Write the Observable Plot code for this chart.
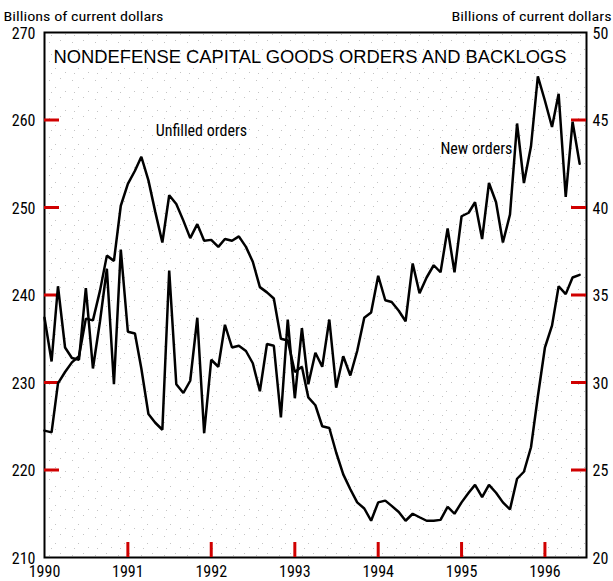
<!DOCTYPE html>
<html><head><meta charset="utf-8">
<script src="https://cdn.jsdelivr.net/npm/d3@7"></script>
<script src="https://cdn.jsdelivr.net/npm/@observablehq/plot@0.6"></script>
<style>body{margin:0;background:#fff}</style>
</head><body><div id="chart"></div>
<script>
// ---- data (monthly, Jan 1990 – Jun 1996), billions of current dollars ----
const startYear = 1990;
const unfilledOrders = [
  224.5, 224.3, 229.9, 231.2, 232.3, 233.0, 237.3, 237.1, 240.5, 244.5, 243.9, 250.2,
  252.7, 254.2, 255.8, 253.1, 249.5, 246.0, 251.4, 250.4, 248.5, 246.5, 248.1, 246.2,
  246.3, 245.5, 246.4, 246.2, 246.7, 245.5, 243.8, 240.9, 240.3, 239.6, 235.0, 234.8,
  231.2, 231.8, 228.3, 227.4, 225.0, 224.8, 222.0, 219.5, 217.8, 216.3, 215.6, 214.2,
  216.3, 216.5, 215.9, 215.2, 214.2, 215.0, 214.6, 214.2, 214.2, 214.3, 215.8, 215.0,
  216.3, 217.4, 218.3, 216.9, 218.3, 217.4, 216.3, 215.5, 219.0, 219.8, 222.6, 228.4,
  234.0, 236.5, 241.0, 240.1, 242.0, 242.3
];
const newOrders = [
  33.7, 31.2, 35.5, 32.0, 31.4, 31.3, 35.4, 30.8, 33.5, 36.5, 29.9, 37.6,
  32.9, 32.8, 30.8, 28.2, 27.7, 27.3, 36.4, 29.9, 29.4, 30.1, 33.7, 27.1,
  31.3, 30.9, 33.3, 32.0, 32.1, 31.8, 31.1, 29.5, 32.2, 32.1, 28.0, 33.6,
  29.1, 33.1, 29.9, 31.7, 30.9, 33.6, 29.7, 31.5, 30.4, 31.8, 33.7, 34.0,
  36.1, 34.7, 34.6, 34.1, 33.5, 36.8, 35.1, 36.0, 36.7, 36.3, 38.8, 36.3,
  39.5, 39.7, 40.3, 38.2, 41.4, 40.3, 38.0, 39.6, 44.8, 41.4, 43.5, 47.5,
  46.1, 44.6, 46.5, 40.6, 44.9, 42.5
];
const yearTicks = [1990, 1991, 1992, 1993, 1994, 1995, 1996];
const leftTicks = [210, 220, 230, 240, 250, 260, 270];
const rightTicks = [20, 25, 30, 35, 40, 45, 50];
const titleText = "NONDEFENSE CAPITAL GOODS ORDERS AND BACKLOGS";
const unitLabel = "Billions of current dollars";
const unfilledLabel = {text: "Unfilled orders", year: 1991, month: 4.0, value: 258.8};
const newLabel = {text: "New orders", year: 1995, month: 7.3, value: 256.7};

// ---- helpers ----
const W = 613, H = 581, mL = 44, mR = 27, mT = 32, mB = 24;
const plotW = W - mL - mR, plotH = H - mT - mB, tickLen = 15;
const leftDomain = [210, 270];
const rightDomain = [20, 50];
const rightToLeft = v => leftDomain[0] + (v - rightDomain[0]) * (leftDomain[1] - leftDomain[0]) / (rightDomain[1] - rightDomain[0]);
const leftToRight = v => rightDomain[0] + (v - leftDomain[0]) * (rightDomain[1] - rightDomain[0]) / (leftDomain[1] - leftDomain[0]);
const monthDate = i => new Date(Date.UTC(startYear, i, 1));
const unfilledData = unfilledOrders.map((v, i) => ({date: monthDate(i), value: v}));
const newData = newOrders.map((v, i) => ({date: monthDate(i), value: rightToLeft(v)}));
const yearDates = yearTicks.map(y => new Date(Date.UTC(y, 0, 1)));
const labelDate = d => new Date(Date.UTC(d.year, 0, 1) + d.month * 30.44 * 864e5);

const narrow = "'Liberation Sans Narrow', 'Arial Narrow', 'Roboto Condensed', sans-serif";
const tickColor = "#d00000";

const chart = Plot.plot({
  width: W,
  height: H,
  marginLeft: mL,
  marginRight: mR,
  marginTop: mT,
  marginBottom: mB,
  style: {fontFamily: narrow, fontSize: "16px"},
  x: {type: "utc", domain: [monthDate(0), monthDate(78)]},
  y: {domain: leftDomain},
  marks: [
    Plot.frame({stroke: "black", strokeWidth: 2}),
    // inward tick marks
    Plot.ruleY(leftTicks.slice(1, -1), {y: d => d, insetRight: plotW - tickLen, stroke: tickColor, strokeWidth: 3}),
    Plot.ruleY(rightTicks.slice(1, -1).map(rightToLeft), {y: d => d, insetLeft: plotW - tickLen, stroke: tickColor, strokeWidth: 3}),
    Plot.ruleX(yearDates.slice(1), {x: d => d, insetTop: plotH - tickLen, stroke: tickColor, strokeWidth: 3}),
    // axis labels
    Plot.axisY(leftTicks, {anchor: "left", tickSize: 0, tickPadding: 9, fontSize: 16, dy: 1, label: null}),
    Plot.axisY(rightTicks.map(rightToLeft), {anchor: "right", tickSize: 0, tickPadding: 6, fontSize: 16, dy: 1, label: null, tickFormat: d => String(Math.round(leftToRight(d)))}),
    Plot.axisX(yearDates, {anchor: "bottom", tickSize: 0, tickPadding: 8, fontSize: 16, label: null, tickFormat: d3.utcFormat("%Y")}),
    // series
    Plot.line(unfilledData, {x: "date", y: "value", stroke: "black", strokeWidth: 2.5, strokeLinejoin: "miter"}),
    Plot.line(newData, {x: "date", y: "value", stroke: "black", strokeWidth: 2.5, strokeLinejoin: "miter"}),
    // series labels
    Plot.text([unfilledLabel], {x: d => labelDate(d), y: "value", text: "text", textAnchor: "start", fontSize: 16, fill: "black"}),
    Plot.text([newLabel], {x: d => labelDate(d), y: "value", text: "text", textAnchor: "end", fontSize: 16, fill: "black"}),
    // title inside frame
    Plot.text([titleText], {frameAnchor: "top-left", dx: 9, dy: 18, textAnchor: "start", fontSize: 18, fontFamily: "'Liberation Sans', Arial, sans-serif", fill: "black"}),
    // unit labels above axes
    Plot.text([unitLabel], {frameAnchor: "top-left", dx: -41, dy: -21, textAnchor: "start", fontSize: 13.5, fill: "black"}),
    Plot.text([unitLabel], {frameAnchor: "top-right", dx: 25, dy: -21, textAnchor: "end", fontSize: 13.5, fill: "black"})
  ]
});

const svg = d3.select(chart);
svg.selectAll("text").filter(function() { return this.textContent === titleText; })
  .attr("textLength", 513).attr("lengthAdjust", "spacingAndGlyphs");
svg.selectAll("text").filter(function() { return this.textContent === unitLabel; })
  .attr("textLength", 160).attr("lengthAdjust", "spacingAndGlyphs");

// light stipple texture behind the marks, limited to the frame
const xs = chart.scale("x"), ys = chart.scale("y");
const [xLeft, xRight] = xs.range;
const [yB, yT] = ys.range;
const defs = svg.append("defs");
const pat = defs.append("pattern").attr("id", "stipple").attr("patternUnits", "userSpaceOnUse")
  .attr("width", 23).attr("height", 19);
[[3, 4], [14, 2], [9, 11], [19, 15], [5, 16]].forEach(([cx, cy]) =>
  pat.append("rect").attr("x", cx).attr("y", cy).attr("width", 1).attr("height", 1).attr("fill", "#c4c4c4"));
const bg = document.createElementNS("http://www.w3.org/2000/svg", "rect");
bg.setAttribute("x", Math.min(xLeft, xRight));
bg.setAttribute("y", Math.min(yB, yT));
bg.setAttribute("width", Math.abs(xRight - xLeft));
bg.setAttribute("height", Math.abs(yB - yT));
bg.setAttribute("fill", "url(#stipple)");
chart.insertBefore(bg, chart.querySelector("g"));

document.getElementById("chart").appendChild(chart);
</script>
</body></html>
